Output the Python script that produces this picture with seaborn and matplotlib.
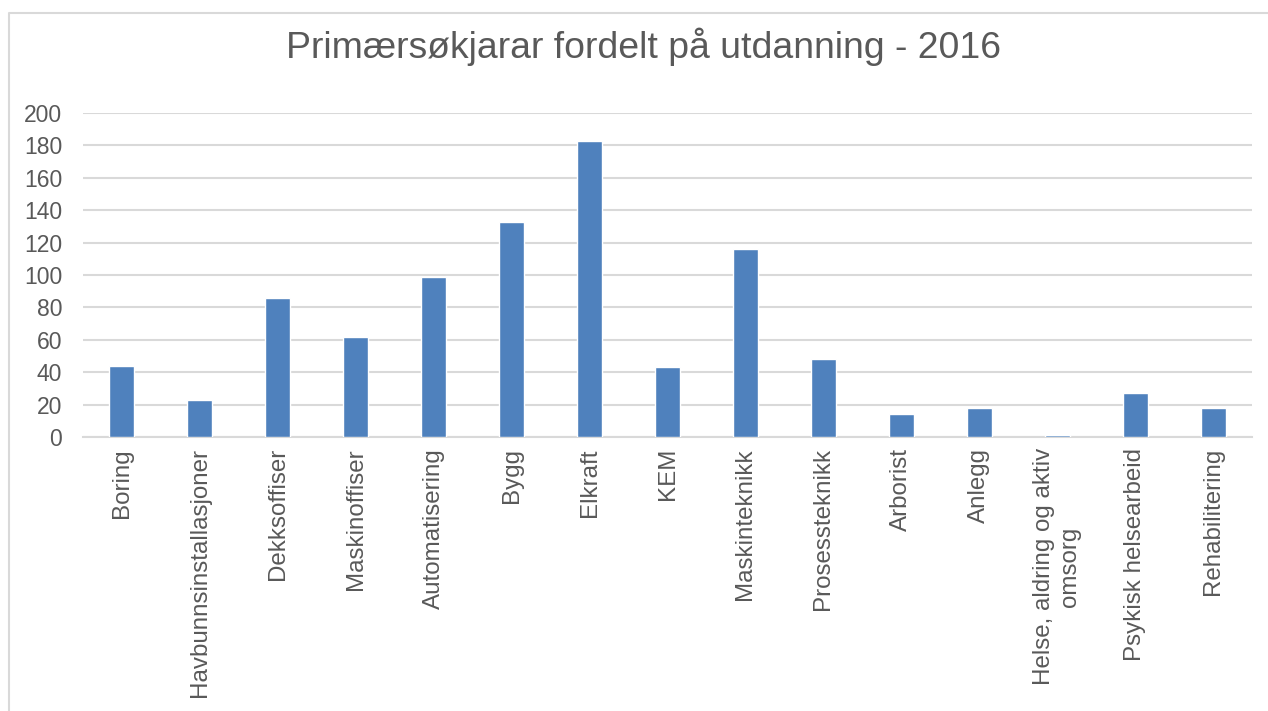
import matplotlib
matplotlib.use("Agg")
import matplotlib.pyplot as plt
from matplotlib.lines import Line2D
import seaborn as sns
import pandas as pd

categories = [
    "Boring", "Havbunnsinstallasjoner", "Dekksoffiser", "Maskinoffiser",
    "Automatisering", "Bygg", "Elkraft", "KEM", "Maskinteknikk",
    "Prosessteknikk", "Arborist", "Anlegg", "Helse, aldring og aktiv\nomsorg",
    "Psykisk helsearbeid", "Rehabilitering",
]
values = [44, 23, 86, 62, 99, 133, 183, 43, 116, 48, 14, 18, 1, 27, 18]
yticks = [0, 20, 40, 60, 80, 100, 120, 140, 160, 180, 200]
title = "Primærsøkjarar fordelt på utdanning - 2016"

sns.set_theme(style="white")
plt.rcParams["font.family"] = ["Liberation Sans", "DejaVu Sans"]

df = pd.DataFrame({"utdanning": categories, "antal": values})

fig = plt.figure(figsize=(12.68, 7.11), dpi=100)
ax = fig.add_axes([83 / 1268, 1 - 437 / 711, (1252 - 83) / 1268, (437 - 113) / 711])

sns.barplot(data=df, x="utdanning", y="antal", color="#4f81bd", width=0.32,
            saturation=1, ax=ax, zorder=3)

ax.set_ylim(0, 200)
ax.set_yticks(yticks)
ax.set_xlim(-0.5, len(categories) - 0.5)
ax.yaxis.grid(True, color="#d9d9d9", linewidth=1.5, zorder=0)
ax.set_axisbelow(True)
for s in ["top", "right", "left"]:
    ax.spines[s].set_visible(False)
ax.spines["bottom"].set_color("#d9d9d9")
ax.spines["bottom"].set_linewidth(1.5)
ax.set_xlabel("")
ax.set_ylabel("")
ax.tick_params(axis="y", length=0, pad=15, labelsize=16.5, labelcolor="#595959")
ax.tick_params(axis="x", length=0, pad=8, labelsize=17.4, labelcolor="#595959")
for lab in ax.get_xticklabels():
    lab.set_rotation(90)
    lab.set_ha("center")
    lab.set_va("top")
    lab.set_multialignment("center")

fig.text(644 / 1268, 1 - 47 / 711, title, ha="center", va="center",
         fontsize=26.9, color="#595959")

# chart border (left & top visible)
xl = 9 / 1268
yt = 1 - 13 / 711
fig.add_artist(Line2D([xl, xl, 1.0], [0.0, yt, yt], transform=fig.transFigure,
                      color="#d9d9d9", linewidth=1.5))

fig.savefig("out.png", dpi=100)
